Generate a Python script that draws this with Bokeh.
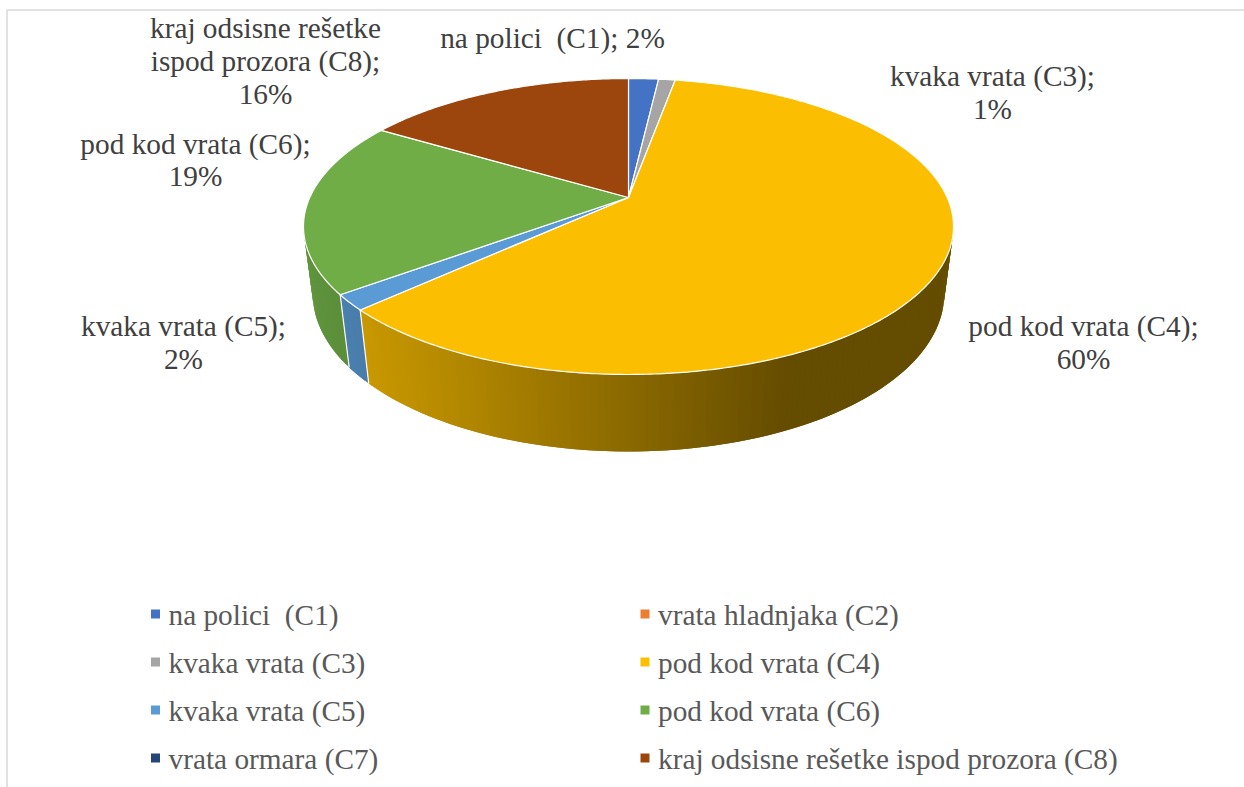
import numpy as np
from bokeh.plotting import figure
from bokeh.models import Range1d
from bokeh.core.properties import value
from bokeh.embed import file_html
from bokeh.resources import INLINE

# ---- data ----
categories = ["na polici \u00a0(C1)", "vrata hladnjaka (C2)", "kvaka vrata (C3)", "pod kod vrata (C4)",
              "kvaka vrata (C5)", "pod kod vrata (C6)", "vrata ormara (C7)",
              "kraj odsisne rešetke ispod prozora (C8)"]
shares = [1.8, 0.0, 1.0, 60.2, 1.7, 19.0, 0.0, 16.3]
colors = ["#4472C4", "#ED7D31", "#A5A5A5", "#FBBE00", "#5B9BD5", "#70AD47", "#264478", "#9C460D"]

FONT = value("Liberation Serif")
LABEL = "#404040"
LEGEND = "#595959"
SIZE = "29.3px"

# page pixels are used as plot coordinates
p = figure(width=1244, height=787, output_backend="svg", toolbar_location=None,
           x_range=Range1d(0, 1244), y_range=Range1d(787, 0),
           min_border=0, outline_line_color=None)
p.axis.visible = False
p.grid.visible = False

# perspective disc: top face and bottom face of the 3D pie
def top(t):
    d = 1 + 0.196 * np.cos(t)
    return 628 + 318.7 * np.sin(t) / d, 197 - 142.3 * np.cos(t) / d

def bottom(t):
    d = 1 + 0.19 * np.cos(t)
    return 628 + 310 * np.sin(t) / d, 263.5 - 151.9 * np.cos(t) / d

def shade(hex_color, x):
    f = max(0.40, 0.80 - (x - 368) * 0.00095)
    r, g, b = (int(hex_color[i:i + 2], 16) for i in (1, 3, 5))
    return "#%02x%02x%02x" % (int(r * f), int(g * f), int(b * f))

edges = 2 * np.pi * np.cumsum([0] + shares) / 100.0
T_A, T_B = np.radians(100), np.radians(260)

# side wall, in thin overlapping strips so the shading can follow x
wx, wy, wc, sep_x, sep_y = [], [], [], [], []
for i, c in enumerate(colors):
    a, b = max(edges[i], T_A), min(edges[i + 1], T_B)
    if b <= a:
        continue
    n = max(1, int(np.degrees(b - a)))
    ts = np.linspace(a, b, n + 1)
    step = ts[1] - ts[0]
    for t0, t1 in zip(ts[:-1], ts[1:]):
        t2 = min(t1 + step, b)
        x0, y0 = top(t0); x1, y1 = top(t2)
        x2, y2 = bottom(t2); x3, y3 = bottom(t0)
        mx = (top(t0)[0] + top(t1)[0] + bottom(t0)[0] + bottom(t1)[0]) / 4
        wx.append([x0, x1, x2, x3]); wy.append([y0, y1, y2, y3])
        wc.append(shade(c, mx))
    if b < T_B:
        x0, y0 = top(b); x1, y1 = bottom(b)
        sep_x.append([x0, x1]); sep_y.append([y0, y1])
p.patches(wx, wy, fill_color=wc, line_color=None)
p.multi_line(sep_x, sep_y, line_color="#ffffff", line_width=1.2)

# top face
fx, fy, fc = [], [], []
for i, c in enumerate(colors):
    if shares[i] <= 0:
        continue
    ts = np.linspace(edges[i], edges[i + 1], max(3, int(shares[i] * 6)))
    x, y = top(ts)
    fx.append([628.0] + list(x)); fy.append([197.0] + list(y)); fc.append(c)
p.patches(fx, fy, fill_color=fc, line_color="#ffffff", line_width=1.2, line_join="round")

# data labels
lab_x = [265, 265, 265, 552, 992, 992, 1083, 1083, 183, 183, 195, 195]
lab_y = [27.5, 60.5, 93.5, 37.5, 75.5, 108.5, 325.5, 358.5, 325.5, 358.5, 143.5, 175.5]
lab_t = ["kraj odsisne rešetke", "ispod prozora (C8);", "16%", "na polici \u00a0(C1); 2%",
         "kvaka vrata (C3);", "1%", "pod kod vrata (C4);", "60%",
         "kvaka vrata (C5);", "2%", "pod kod vrata (C6);", "19%"]
p.text(lab_x, lab_y, text=lab_t, text_font=FONT, text_font_size=SIZE, text_color=LABEL,
       text_align="center", text_baseline="middle")

# legend
leg_x = [155, 644.5] * 4
leg_y = [613.5, 613.5, 661.5, 661.5, 709.5, 709.5, 757.5, 757.5]
p.rect(leg_x, leg_y, width=9, height=9, fill_color=colors, line_color=None)
p.text([x + 13 for x in leg_x], [y + 1 for y in leg_y], text=categories, text_font=FONT,
       text_font_size=SIZE, text_color=LEGEND, text_align="left", text_baseline="middle")

# frame
p.line([6.5, 6.5], [787, 9.5], line_color="#D9D9D9", line_width=1.5)
p.line([6.5, 1244], [9.5, 9.5], line_color="#D9D9D9", line_width=1.5)

open("out.html", "w").write(file_html(p, INLINE))
